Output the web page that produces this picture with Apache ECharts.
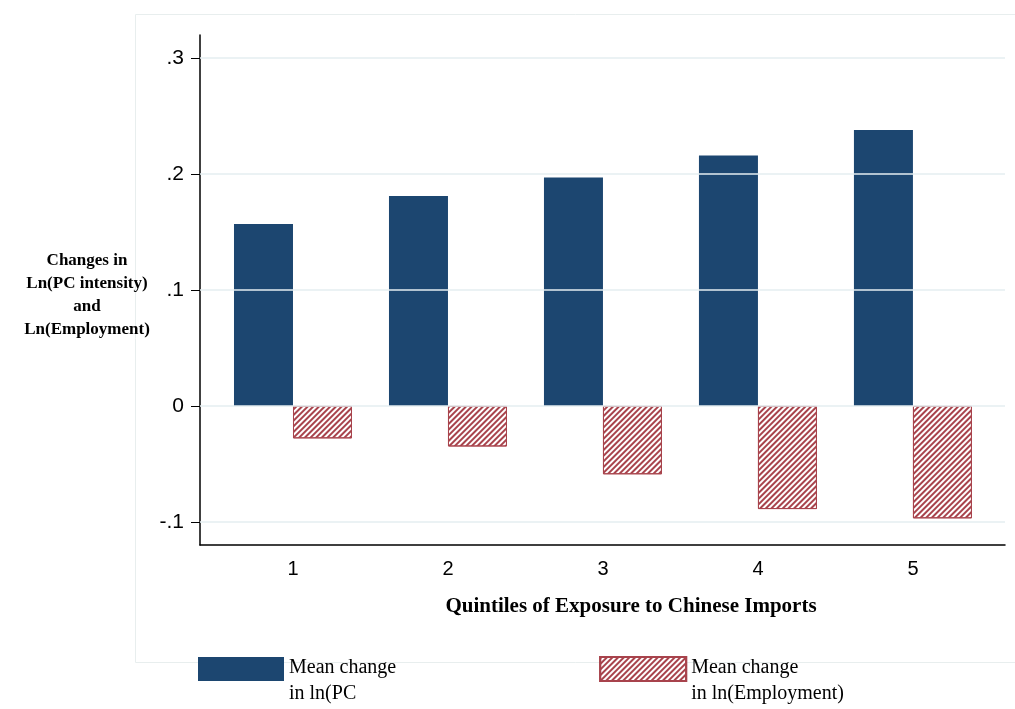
<!DOCTYPE html>
<html><head><meta charset="utf-8">
<script src="https://cdn.jsdelivr.net/npm/echarts@6/dist/echarts.min.js"></script>
<style>html,body{margin:0;background:#fff}#chart{width:1015px;height:709px}</style>
</head><body><div id="chart"></div>
<script>
var quintiles = [1, 2, 3, 4, 5];
var pcChange = [0.157, 0.181, 0.197, 0.216, 0.238];
var empChange = [-0.028, -0.035, -0.059, -0.089, -0.097];
var yTicks = [-0.1, 0, 0.1, 0.2, 0.3];

var chart = echarts.init(document.getElementById('chart'));
var red = '#a8434c';
var serif = '"Times New Roman", "Liberation Serif", serif';
var option = {
  backgroundColor: '#fff',
  animation: false,
  grid: { left: 200, right: 10, top: 35, bottom: 164 },
  xAxis: {
    type: 'value', min: 0.4, max: 5.594,
    axisLine: { onZero: false, lineStyle: { color: '#000', width: 1.5 } },
    axisTick: { show: true, customValues: quintiles, length: 0, lineStyle: { color: '#000' } },
    axisLabel: { customValues: quintiles, color: '#000', fontSize: 20, fontFamily: 'Arial', margin: 14 },
    splitLine: { show: false }
  },
  yAxis: {
    type: 'value', min: -0.12, max: 0.32,
    axisLine: { show: true, lineStyle: { color: '#000', width: 1.5 } },
    axisTick: { show: true, customValues: yTicks, length: 9, lineStyle: { color: '#000' } },
    axisLabel: {
      customValues: yTicks, color: '#000', fontSize: 21, fontFamily: 'Arial', margin: 16,
      formatter: function (v) { return v === 0 ? '0' : String(+v.toFixed(1)).replace('0.', '.'); }
    },
    splitLine: { show: false }
  },
  legend: {
    top: 631, left: 198, padding: 0, itemGap: 203, itemWidth: 86, itemHeight: 24,
    icon: 'rect', align: 'left',
    formatter: function (name) {
      return '{s| }\n' + name.split('\n').map(function (l) { return '{t|' + l + '}'; }).join('\n');
    },
    textStyle: {
      fontFamily: serif, fontSize: 20, color: '#000', lineHeight: 26,
      rich: { s: { lineHeight: 24, fontSize: 10 }, t: { fontFamily: serif, fontSize: 20, color: '#000', lineHeight: 26 } }
    },
    data: ['Mean change\nin ln(PC', 'Mean change\nin ln(Employment)']
  },
  series: [
    {
      type: 'line', data: [], silent: true, z: 1,
      markLine: {
        silent: true, symbol: 'none', label: { show: false },
        lineStyle: { color: '#e4eef0', type: 'solid', width: 1.5 },
        data: yTicks.map(function (t) { return { yAxis: t }; })
      }
    },
    {
      name: 'Mean change\nin ln(PC', type: 'bar', barWidth: 59, barGap: '0%',
      itemStyle: { color: '#1c4670' },
      data: quintiles.map(function (q, i) { return [q, pcChange[i]]; }),
      z: 3
    },
    {
      name: 'Mean change\nin ln(Employment)', type: 'bar', barWidth: 59, barGap: '0%',
      itemStyle: {
        color: '#fff', borderColor: red, borderWidth: 1,
        decal: { color: red, dashArrayX: [1, 0], dashArrayY: [1.8, 2], rotation: -Math.PI / 4, symbolSize: 1 }
      },
      data: quintiles.map(function (q, i) { return [q, empChange[i]]; }),
      z: 3
    }
  ],
  graphic: [
    { type: 'rect', left: 133, top: 12, shape: { width: 900, height: 648 }, style: { fill: 'none', stroke: '#e8eeee', lineWidth: 1 }, silent: true, z: -1 },
    { type: 'text', x: 631, y: 607, style: { text: 'Quintiles of Exposure to Chinese Imports', font: 'bold 21px ' + serif, fill: '#000', align: 'center', verticalAlign: 'middle' } },
    { type: 'text', x: 87, y: 249, style: { text: 'Changes in\nLn(PC intensity)\nand\nLn(Employment)', font: 'bold 17px ' + serif, fill: '#000', align: 'center', lineHeight: 23 } }
  ]
};
chart.setOption(option);
</script></body></html>
